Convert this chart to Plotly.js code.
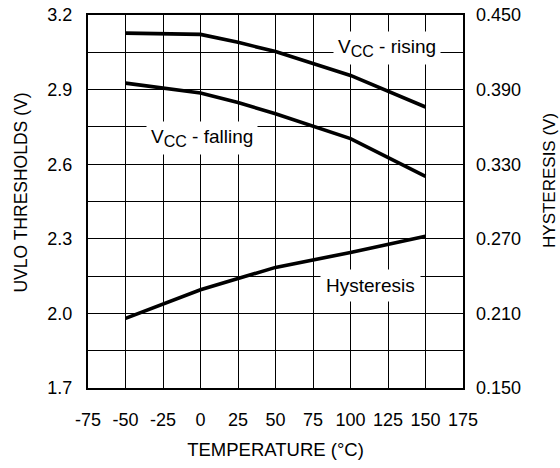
<!DOCTYPE html>
<html>
<head>
<meta charset="utf-8">
<script src="https://cdn.plot.ly/plotly-3.0.1.min.js"></script>
<style>html,body{margin:0;padding:0;background:#fff;}#chart{width:560px;height:468px;}</style>
</head>
<body>
<div id="chart"></div>
<script>
const temps = [-50, 0, 25, 50, 100, 150];
const vccRising = [3.127, 3.122, 3.090, 3.053, 2.957, 2.830];
const vccFalling = [2.926, 2.886, 2.848, 2.803, 2.703, 2.551];
const hysteresis = [0.206, 0.229, 0.238, 0.247, 0.259, 0.272];

const xTicks = [-75, -50, -25, 0, 25, 50, 75, 100, 125, 150, 175];
const yLeftTicks = [1.7, 2.0, 2.3, 2.6, 2.9, 3.2];
const yLeftText = ['1.7', '2.0', '2.3', '2.6', '2.9', '3.2'];
const yRightTicks = [0.15, 0.21, 0.27, 0.33, 0.39, 0.45];
const yRightText = ['0.150', '0.210', '0.270', '0.330', '0.390', '0.450'];

const fam = 'Liberation Sans, Arial, sans-serif';
const tickFont = {family: fam, size: 18, color: '#000'};
const lblFont = {family: fam, size: 19, color: '#000'};
const lineStyle = {color: '#000', width: 3.6};

const traces = [
  {x: temps, y: vccRising, mode: 'lines', line: lineStyle, yaxis: 'y', showlegend: false},
  {x: temps, y: vccFalling, mode: 'lines', line: lineStyle, yaxis: 'y', showlegend: false},
  {x: temps, y: hysteresis, mode: 'lines', line: lineStyle, yaxis: 'y2', showlegend: false}
];

const layout = {
  width: 560, height: 468,
  margin: {l: 88, r: 97, t: 15, b: 80},
  paper_bgcolor: '#fff', plot_bgcolor: '#fff',
  font: tickFont,
  xaxis: {
    range: [-75, 175], tickvals: xTicks, ticktext: xTicks.map(String),
    tickfont: tickFont,
    showgrid: true, gridcolor: '#000', gridwidth: 1,
    showline: true, linecolor: '#000', linewidth: 2, mirror: true,
    zeroline: false, ticks: '', ticklabelstandoff: 14,
    title: {text: 'TEMPERATURE (°C)', font: {family: fam, size: 18.5, color: '#000'}, standoff: 14}
  },
  yaxis: {
    range: [1.7, 3.2], tickvals: yLeftTicks, ticktext: yLeftText,
    tickfont: tickFont,
    showgrid: true, gridcolor: '#000', gridwidth: 1,
    minor: {tickvals: [1.85, 2.15, 2.45, 2.75, 3.05], showgrid: true, gridcolor: '#000', gridwidth: 1, ticks: ''},
    showline: true, linecolor: '#000', linewidth: 2, mirror: true,
    zeroline: false, ticks: '', ticklabelstandoff: 10
  },
  yaxis2: {
    range: [0.15, 0.45], tickvals: yRightTicks, ticktext: yRightText,
    tickfont: tickFont,
    overlaying: 'y', side: 'right', showgrid: false, zeroline: false,
    showline: false, ticks: '', ticklabelstandoff: 12
  },
  annotations: [
    {x: 124.5, y: 3.067, xref: 'x', yref: 'y', text: 'V<sub><span style="font-size:16px">CC</span></sub> - rising', showarrow: false,
     bgcolor: '#fff', font: lblFont, borderpad: 4},
    {x: 1.2, y: 2.704, xref: 'x', yref: 'y', text: 'V<sub><span style="font-size:16px">CC</span></sub> - falling', showarrow: false,
     bgcolor: '#fff', font: lblFont, borderpad: 4},
    {x: 113.5, y: 2.114, xref: 'x', yref: 'y', text: 'Hysteresis', showarrow: false,
     bgcolor: '#fff', font: lblFont, borderpad: 5},
    {x: -0.1787, y: 0.524, xref: 'paper', yref: 'paper', text: 'UVLO THRESHOLDS (V)', textangle: -90,
     showarrow: false, xanchor: 'center', yanchor: 'middle', font: {family: fam, size: 17.5, color: '#000'}},
    {x: 1.232, y: 0.555, xref: 'paper', yref: 'paper', text: 'HYSTERESIS (V)', textangle: -90,
     showarrow: false, xanchor: 'center', yanchor: 'middle', font: {family: fam, size: 17, color: '#000'}}
  ]
};

Plotly.newPlot('chart', traces, layout, {displayModeBar: false, staticPlot: true});
</script>
</body>
</html>
